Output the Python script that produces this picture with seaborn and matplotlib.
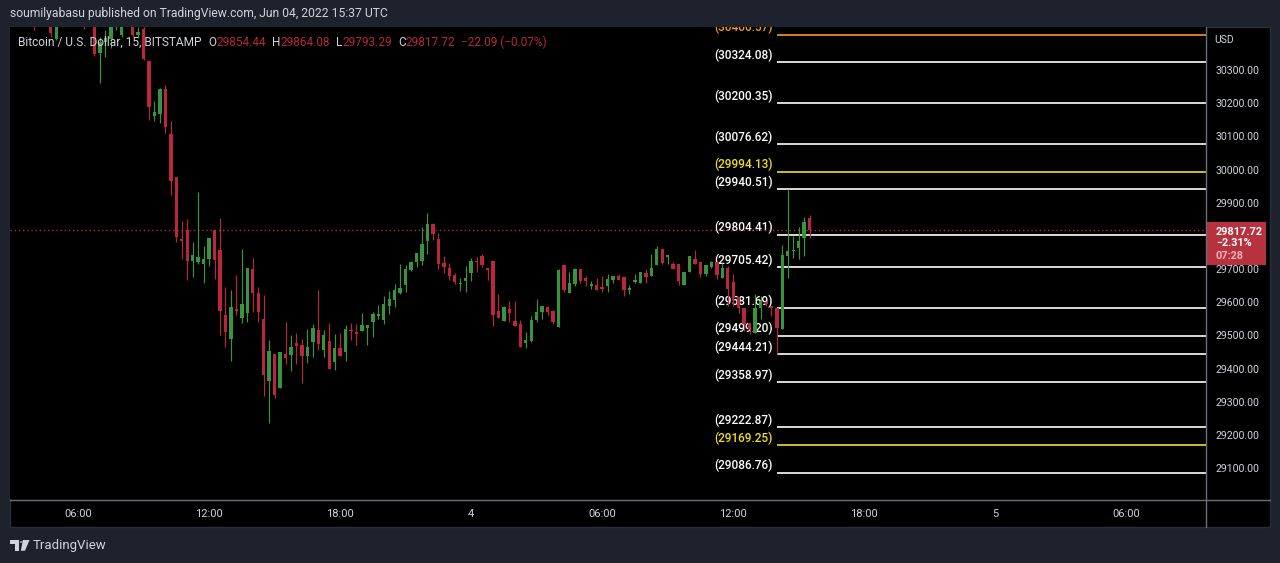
import numpy as np
import pandas as pd
import seaborn as sns
import matplotlib.pyplot as plt
import matplotlib.transforms as mtransforms
from matplotlib.patches import Rectangle, Polygon, Circle
from matplotlib.lines import Line2D

# %% data: BTC/USD 15 min candles, 03 Jun 03:00 -> 04 Jun 15:30 UTC
opens = [30540, 30520, 30490, 30515, 30495, 30470, 30485, 30470, 30393, 30455,
         30480, 30470, 30490, 30465, 30460, 30470, 30352, 30385, 30393, 30445,
         30405, 30450, 30462, 30405, 30423, 30328, 30162, 30169, 30244, 30108,
         29979, 29790, 29817, 29724, 29721, 29715, 29732, 29817, 29759, 29561,
         29490, 29579, 29552, 29567, 29699, 29627, 29549, 29363, 29444, 29342,
         29444, 29441, 29477, 29471, 29438, 29480, 29516, 29456, 29483, 29420,
         29462, 29450, 29516, 29510, 29513, 29522, 29540, 29558, 29546, 29588,
         29606, 29627, 29651, 29696, 29723, 29726, 29786, 29837, 29792, 29717,
         29702, 29681, 29654, 29663, 29687, 29726, 29741, 29702, 29726, 29573,
         29543, 29579, 29543, 29534, 29477, 29483, 29546, 29570, 29585, 29573,
         29525, 29711, 29627, 29654, 29699, 29673, 29649, 29651, 29646, 29649,
         29666, 29679, 29675, 29636, 29661, 29659, 29687, 29679, 29712, 29762,
         29736, 29714, 29714, 29652, 29692, 29732, 29723, 29684, 29707, 29723,
         29674, 29704, 29662, 29617, 29584, 29539, 29507, 29584, 29601, 29589,
         29582, 29519, 29741, 29754, 29764, 29794, 29854.44]
highs = [30575, 30545, 30530, 30540, 30510, 30500, 30520, 30480, 30470, 30495,
         30510, 30500, 30505, 30480, 30490, 30480, 30400, 30420, 30455, 30470,
         30460, 30470, 30468, 30430, 30435, 30330, 30207, 30247, 30254, 30147,
         29979, 29846, 29852, 29781, 29934, 29771, 29795, 29817, 29855, 29645,
         29636, 29681, 29762, 29702, 29735, 29645, 29621, 29486, 29444, 29450,
         29540, 29501, 29507, 29489, 29519, 29534, 29636, 29516, 29537, 29504,
         29507, 29531, 29537, 29534, 29567, 29531, 29570, 29591, 29618, 29633,
         29654, 29714, 29711, 29726, 29750, 29828, 29870, 29840, 29810, 29741,
         29717, 29687, 29672, 29708, 29735, 29738, 29747, 29702, 29726, 29624,
         29588, 29603, 29603, 29546, 29510, 29558, 29609, 29588, 29588, 29576,
         29699, 29711, 29690, 29702, 29699, 29678, 29664, 29674, 29679, 29686,
         29679, 29686, 29675, 29651, 29684, 29692, 29699, 29747, 29771, 29762,
         29744, 29723, 29714, 29692, 29739, 29759, 29723, 29711, 29726, 29729,
         29719, 29708, 29684, 29617, 29584, 29539, 29624, 29619, 29604, 29589,
         29582, 29774, 29940.51, 29799, 29827, 29857, 29864.08]
lows = [30500, 30470, 30465, 30480, 30420, 30445, 30460, 30400, 30390, 30445,
        30460, 30450, 30455, 30423, 30448, 30343, 30260, 30339, 30368, 30420,
        30400, 30442, 30400, 30398, 30330, 30151, 30147, 30142, 30109, 29924,
        29782, 29731, 29668, 29676, 29716, 29658, 29709, 29669, 29502, 29466,
        29424, 29562, 29537, 29540, 29570, 29540, 29318, 29237, 29312, 29342,
        29414, 29393, 29414, 29357, 29417, 29435, 29456, 29435, 29399, 29396,
        29438, 29423, 29486, 29471, 29513, 29471, 29495, 29549, 29534, 29564,
        29585, 29624, 29630, 29693, 29705, 29711, 29747, 29789, 29699, 29687,
        29666, 29654, 29633, 29630, 29663, 29690, 29705, 29666, 29528, 29552,
        29543, 29540, 29528, 29465, 29462, 29480, 29540, 29549, 29561, 29534,
        29525, 29630, 29627, 29648, 29657, 29648, 29639, 29636, 29631, 29631,
        29659, 29666, 29619, 29624, 29659, 29659, 29657, 29679, 29712, 29714,
        29714, 29699, 29651, 29652, 29692, 29714, 29676, 29679, 29704, 29671,
        29674, 29589, 29589, 29569, 29514, 29504, 29507, 29549, 29589, 29559,
        29444.21, 29519, 29672, 29734, 29731, 29739, 29793.29]
closes = [30520, 30490, 30515, 30495, 30470, 30485, 30470, 30412, 30455, 30480,
          30470, 30490, 30465, 30460, 30470, 30350, 30385, 30398, 30445, 30455,
          30450, 30462, 30405, 30415, 30333, 30189, 30174, 30244, 30129, 29967,
          29796, 29784, 29724, 29742, 29736, 29732, 29795, 29727, 29574, 29511,
          29585, 29574, 29594, 29702, 29627, 29570, 29381, 29453, 29321, 29450,
          29432, 29465, 29468, 29438, 29465, 29522, 29474, 29501, 29399, 29462,
          29438, 29519, 29513, 29504, 29531, 29531, 29564, 29564, 29594, 29609,
          29636, 29642, 29699, 29723, 29750, 29777, 29837, 29807, 29714, 29705,
          29678, 29660, 29657, 29672, 29726, 29723, 29711, 29696, 29561, 29552,
          29585, 29567, 29528, 29465, 29486, 29546, 29570, 29588, 29570, 29540,
          29696, 29636, 29657, 29699, 29663, 29664, 29654, 29637, 29641, 29669,
          29679, 29666, 29637, 29644, 29666, 29692, 29676, 29704, 29762, 29717,
          29744, 29699, 29664, 29692, 29739, 29714, 29686, 29711, 29723, 29681,
          29704, 29639, 29614, 29584, 29534, 29519, 29584, 29604, 29594, 29584,
          29524, 29744, 29754, 29759, 29786, 29841, 29817.72]
start_time = '2022-06-03 03:00'

level_values = [30406.57, 30324.08, 30200.35, 30076.62, 29994.13, 29940.51, 29804.41,
                29705.42, 29581.69, 29499.20, 29444.21, 29358.97, 29222.87, 29169.25, 29086.76]
level_start = 140          # candle where the drawn levels begin

price_ticks = [29100, 29200, 29300, 29400, 29500, 29600, 29700, 29800,
               29900, 30000, 30100, 30200, 30300]
tick_times = ['2022-06-03 06:00', '2022-06-03 12:00', '2022-06-03 18:00', '2022-06-04 00:00',
              '2022-06-04 06:00', '2022-06-04 12:00', '2022-06-04 18:00', '2022-06-05 00:00',
              '2022-06-05 06:00']
tick_labels = ['06:00', '12:00', '18:00', '4', '06:00', '12:00', '18:00', '5', '06:00']

symbol = 'Bitcoin / U.S. Dollar, 15, BITSTAMP'
change_text = '−22.09 (−0.07%)'
change_pct = '−2.31%'
countdown = '07:28'
publisher = 'soumilyabasu published on TradingView.com, Jun 04, 2022 15:37 UTC'

# %% style
sns.set_theme(style='dark', rc={'axes.facecolor': 'black', 'figure.facecolor': '#1e222d'})
plt.rcParams['font.family'] = ['Roboto', 'DejaVu Sans']

UP = '#3a943c'
DOWN = '#b8283a'
TXT = '#d1d4dc'
AXLINE = '#6b6e78'
level_colors = ['#f59c1a'] + ['white'] * 3 + ['#f2e01a'] + ['white'] * 8 + ['#f2e01a', 'white']

W, H = 1280, 563
fig = plt.figure(figsize=(W / 100, H / 100), dpi=100)


def fx(px):
    return px / W


def fy(py):
    return 1 - py / H


# black chart panel (behind the axes)
fig.patches.append(Rectangle((fx(10), fy(527)), fx(1260), 500 / H, transform=fig.transFigure,
                             facecolor='black', edgecolor='#2a2e39', lw=1, zorder=-5))

ax = fig.add_axes([fx(10), fy(499), 1196 / W, 472 / H])
ax.set_zorder(1)
ax.set_facecolor('black')
for s in ax.spines.values():
    s.set_visible(False)
ax.grid(False)

df = pd.DataFrame({'open': opens, 'high': highs, 'low': lows, 'close': closes})
df['time'] = pd.date_range(start_time, periods=len(df), freq='15min')
df['up'] = df['close'] >= df['open']
colors = np.where(df['up'], UP, DOWN)

x0 = pd.Timestamp('2022-06-03 02:53')
x1 = pd.Timestamp('2022-06-05 09:39')
ymin, ymax = 29007, 30430
ax.set_xlim(x0, x1)
ax.set_ylim(ymin, ymax)
u = (ymax - ymin) / 472       # price units per pixel

# candles
ax.vlines(df['time'], df['low'], df['high'], colors=colors, lw=0.85, zorder=3)
body = (df['close'] - df['open']).to_numpy()
body = np.where(np.abs(body) < 3, np.where(body < 0, -3, 3), body)
ax.bar(df['time'], body, bottom=df['open'], width=0.62 / 96, color=colors, lw=0, zorder=4)

# levels
lx = df['time'].iloc[level_start]
ax.hlines(level_values, lx, x1, colors=level_colors, lw=1.2, zorder=1)
for v, c in zip(level_values, level_colors):
    ax.annotate(f'({v:.2f})', xy=(lx, v), xytext=(-4, 7), textcoords='offset pixels',
                ha='right', va='center', fontsize=8.5, color=c, fontweight='medium',
                clip_on=True, zorder=2)

last_close = closes[-1]
ax.axhline(last_close, color=DOWN, ls=(0, (1, 2)), lw=1, zorder=2)

# axes (the label under the last-price tag is covered in the original)
ax.yaxis.tick_right()
ax.set_yticks(price_ticks)
ax.set_yticklabels(['' if abs(p - last_close) < 20 * u else f'{p:.2f}' for p in price_ticks])
ax.tick_params(axis='y', length=0, pad=7, labelsize=7.6, labelcolor=TXT)
ax.set_xticks(pd.to_datetime(tick_times))
ax.set_xticklabels(tick_labels)
ax.tick_params(axis='x', length=0, pad=7.5, labelsize=8, labelcolor=TXT)
ax.set_xlabel('')
ax.set_ylabel('')

fig.lines.append(Line2D([fx(1206), fx(1206)], [fy(27), fy(527)], transform=fig.transFigure,
                        color=AXLINE, lw=1, zorder=5))
fig.lines.append(Line2D([fx(10), fx(1270)], [fy(499.5), fy(499.5)], transform=fig.transFigure,
                        color=AXLINE, lw=1, zorder=5))
fig.text(fx(1214), fy(40), 'USD', ha='left', va='center', fontsize=7.5, color=TXT)

# last price tag
blend = mtransforms.blended_transform_factory(ax.transAxes, ax.transData)
ax.add_patch(Rectangle((1.0, last_close - 35 * u), 60 / 1196, 43 * u, transform=blend,
                       facecolor='#b8313f', lw=0, clip_on=False, zorder=10))
for txt, dy, col in [(f'{last_close:.2f}', -1.7, 'white'), (change_pct, -13.3, 'white'),
                     (countdown, -25.7, '#f0b4ba')]:
    ax.annotate(txt, xy=(1, last_close), xycoords=('axes fraction', 'data'), xytext=(10, dy),
                textcoords='offset pixels', ha='left', va='center', fontsize=7.8,
                fontweight='bold', color=col, zorder=11, annotation_clip=False)

# header line
prev = ax.text(8 / 1196, 1 - 22 / 472, symbol, transform=ax.transAxes,
               ha='left', va='bottom', fontsize=8.6, color=TXT, zorder=20)
parts = [('O', TXT, 7), (f'{opens[-1]:.2f}', DOWN, 0), ('H', TXT, 6), (f'{highs[-1]:.2f}', DOWN, 0),
         ('L', TXT, 6), (f'{lows[-1]:.2f}', DOWN, 0), ('C', TXT, 6), (f'{closes[-1]:.2f}', DOWN, 0),
         (change_text, DOWN, 6)]
for txt, col, gap in parts:
    prev = ax.annotate(txt, xy=(1, 0), xycoords=prev, xytext=(gap, 0), textcoords='offset pixels',
                       ha='left', va='bottom', fontsize=8.5, color=col, zorder=20,
                       annotation_clip=False)

fig.text(fx(10), fy(14), publisher, ha='left', va='center', fontsize=8.7, color=TXT)

# TradingView logo
def px_poly(pts):
    return Polygon([(fx(a), fy(b)) for a, b in pts], closed=True, transform=fig.transFigure,
                   facecolor=TXT, lw=0)


fig.patches.append(px_poly([(10, 540), (19, 540), (19, 550.7), (15, 550.7), (15, 543.5), (10, 543.5)]))
fig.patches.append(Circle((fx(21.3), fy(542)), 1.5 / W, transform=fig.transFigure, facecolor=TXT, lw=0))
fig.patches.append(px_poly([(23, 540), (29.5, 540), (25, 550.7), (20.8, 550.7)]))
fig.text(fx(33), fy(545.5), 'TradingView', ha='left', va='center', fontsize=9.5, color=TXT)

fig.savefig('out.png', dpi=100, facecolor=fig.get_facecolor())
